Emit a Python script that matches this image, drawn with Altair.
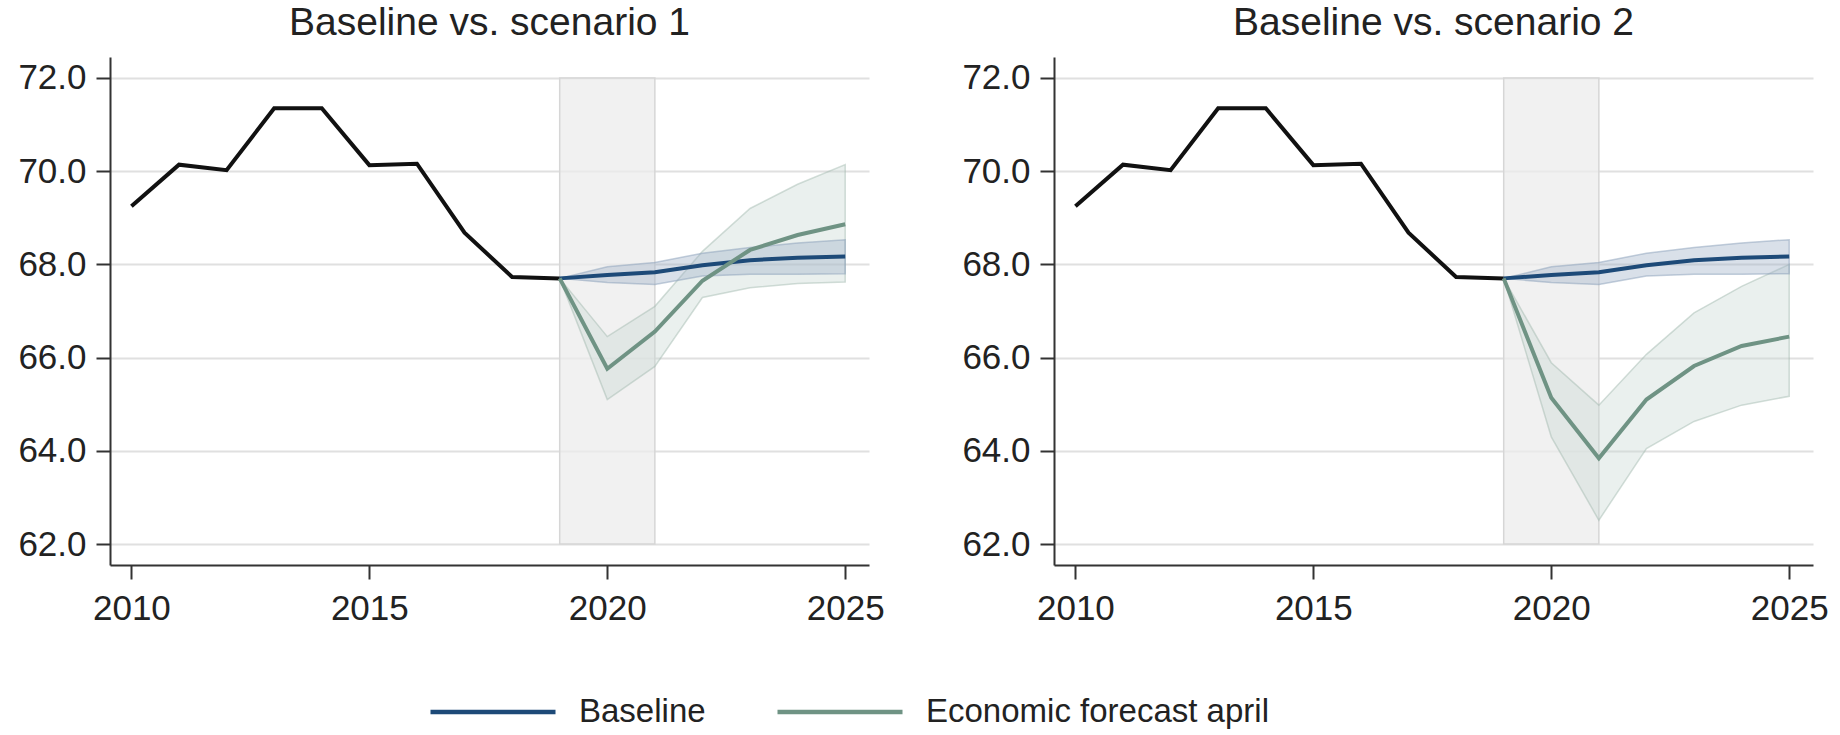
import altair as alt
import pandas as pd

# Historical series
hist_years = [2010, 2011, 2012, 2013, 2014, 2015, 2016, 2017, 2018, 2019]
hist_values = [69.25, 70.14, 70.02, 71.35, 71.35, 70.13, 70.16, 68.68, 67.73, 67.70]

# Projection years
fc_years = [2019, 2020, 2021, 2022, 2023, 2024, 2025]

# Baseline path and its band
baseline = [67.70, 67.77, 67.83, 67.98, 68.09, 68.14, 68.17]
baseline_low = [67.70, 67.61, 67.57, 67.75, 67.79, 67.79, 67.80]
baseline_high = [67.70, 67.95, 68.04, 68.24, 68.36, 68.46, 68.53]

# Scenario 1 path and its band
scen1 = [67.70, 65.76, 66.56, 67.65, 68.31, 68.63, 68.86]
scen1_low = [67.70, 65.10, 65.81, 67.29, 67.50, 67.59, 67.62]
scen1_high = [67.70, 66.45, 67.10, 68.28, 69.20, 69.72, 70.14]

# Scenario 2 path and its band
scen2 = [67.70, 65.14, 63.84, 65.10, 65.82, 66.25, 66.45]
scen2_low = [67.70, 64.30, 62.51, 64.05, 64.63, 64.98, 65.17]
scen2_high = [67.70, 65.89, 64.98, 66.07, 66.96, 67.53, 68.00]

# Shaded crisis window
shade = {"start": 2019, "end": 2021, "low": 62, "high": 72}

titles = ["Baseline vs. scenario 1", "Baseline vs. scenario 2"]
series_names = ["Baseline", "Economic forecast april"]

BLUE = "#1d4a78"
GREEN = "#6f9384"
FONT = "Liberation Sans"

x_scale = alt.Scale(domain=[2009.55, 2025.5], nice=False, zero=False)
y_scale = alt.Scale(domain=[61.55, 72.45], nice=False, zero=False)
x_axis = alt.Axis(values=[2010, 2015, 2020, 2025], format="d", grid=False,
                  labelPadding=12, labelFlush=False)
y_axis = alt.Axis(values=[62, 64, 66, 68, 70, 72], format=".1f", grid=True,
                  labelPadding=10)

hist_df = pd.DataFrame({"year": hist_years, "value": hist_values})
shade_df = pd.DataFrame([shade])


def scenario_frame(path, low, high):
    rows = []
    for name, p, lo, hi in [(series_names[0], baseline, baseline_low, baseline_high),
                            (series_names[1], path, low, high)]:
        for y, v, a, b in zip(fc_years, p, lo, hi):
            rows.append({"year": y, "series": name, "value": v, "low": a, "high": b})
    return pd.DataFrame(rows)


def panel(title, path, low, high):
    df = scenario_frame(path, low, high)
    base = alt.Chart(df)

    rect = alt.Chart(shade_df).mark_rect(
        fill="#ececec", fillOpacity=0.75, stroke="#d6d6d6", strokeWidth=1.5
    ).encode(
        x=alt.X("start:Q", scale=x_scale, axis=x_axis, title=None),
        x2="end:Q",
        y=alt.Y("low:Q", scale=y_scale, axis=y_axis, title=None),
        y2="high:Q",
    )

    band_fc = base.transform_filter(alt.datum.series == series_names[1]).mark_area(
        fill="#c9d8d1", fillOpacity=0.38, stroke="#9db5aa", strokeOpacity=0.45, strokeWidth=1.5
    ).encode(x="year:Q", y="low:Q", y2="high:Q")

    band_base = base.transform_filter(alt.datum.series == series_names[0]).mark_area(
        fill="#9fb2c8", fillOpacity=0.4, stroke="#8aa0ba", strokeOpacity=0.5, strokeWidth=1.5
    ).encode(x="year:Q", y="low:Q", y2="high:Q")

    hist = alt.Chart(hist_df).mark_line(color="#111111", strokeWidth=4).encode(
        x="year:Q", y="value:Q"
    )

    lines = base.mark_line(strokeWidth=4).encode(
        x="year:Q",
        y="value:Q",
        color=alt.Color(
            "series:N",
            scale=alt.Scale(domain=series_names, range=[BLUE, GREEN]),
            sort=series_names,
            legend=alt.Legend(
                title=None, orient="none", direction="horizontal",
                legendX=318, legendY=590,
                symbolType="stroke", symbolStrokeWidth=4.5, symbolSize=15625,
                labelFontSize=33, labelFont=FONT, labelColor="#222222",
                labelOffset=21, columnPadding=62, labelLimit=600,
            ),
        ),
    )

    return alt.layer(rect, band_fc, band_base, hist, lines).properties(
        width=759, height=508, title=title
    )


chart = alt.hconcat(
    panel(titles[0], scen1, scen1_low, scen1_high),
    panel(titles[1], scen2, scen2_low, scen2_high),
    spacing=185,
    bounds="flush",
).properties(
    padding={"left": 17, "top": 4, "right": 10, "bottom": 2},
    background="white",
).configure_view(stroke=None).configure_axis(
    labelFont=FONT, labelFontSize=35, labelColor="#222222",
    domainColor="#333333", domainWidth=2,
    tickColor="#333333", tickWidth=2, tickSize=14,
    gridColor="#e0e0e0", gridWidth=2,
).configure_title(
    font=FONT, fontSize=39, fontWeight="normal", color="#222222",
    anchor="middle", offset=14,
)

chart.save("out.html", embed_options={"renderer": "svg", "actions": False})
